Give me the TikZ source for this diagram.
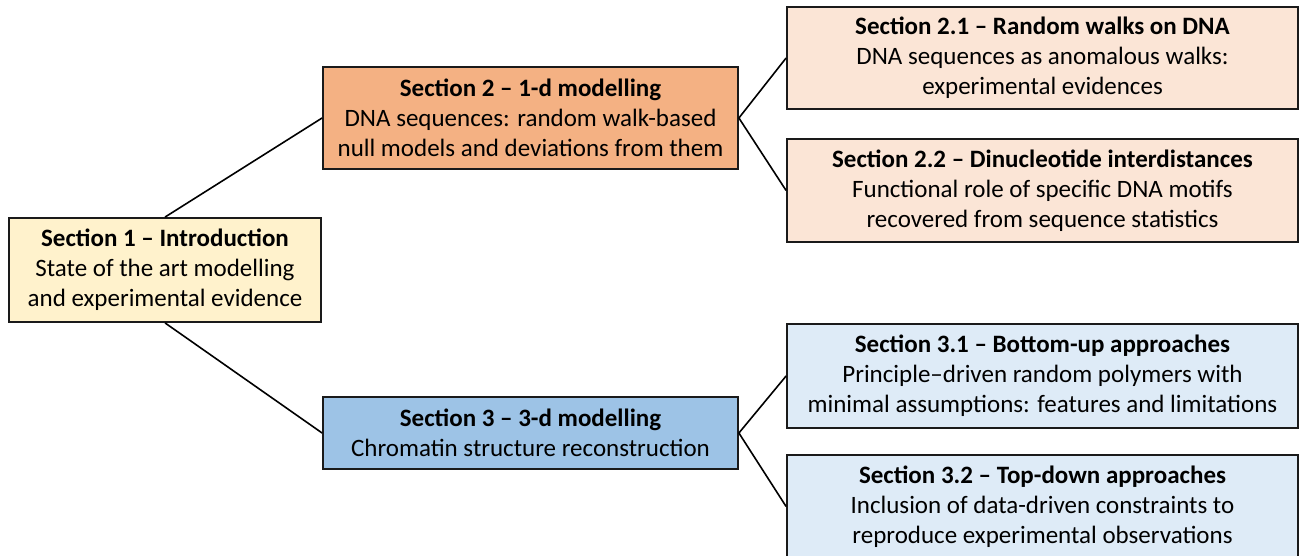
\documentclass[tikz,border=0pt]{standalone}
\usepackage{fontspec}
\setmainfont{Carlito}
\definecolor{bordc}{HTML}{1A1A1A}
\definecolor{yelf}{HTML}{FFF2CC}
\definecolor{orf}{HTML}{F4B183}
\definecolor{bluf}{HTML}{9DC3E6}
\definecolor{peachf}{HTML}{FBE5D6}
\definecolor{lbluf}{HTML}{DEEBF7}
\tikzset{
  secbox/.style={draw=bordc, line width=1.8pt, rectangle, align=center, inner sep=0pt,
    font=\fontsize{25}{30}\selectfont},
  conn/.style={draw=black, line width=1.6pt},
}
\begin{document}
\begin{tikzpicture}[x=1pt,y=-1pt]
\useasboundingbox (0,0) rectangle (1301,556);
\fill[white] (0,0) rectangle (1301,556);
\node[secbox, fill=yelf, minimum width=312pt, minimum height=104pt] (s1) at (165,270)
  {\textbf{Section 1 – Introduction}\\State of the art modelling\\and experimental evidence};
\node[secbox, fill=orf, minimum width=415pt, minimum height=102pt] (s2) at (530.5,118)
  {\textbf{Section 2 – 1-d modelling}\\DNA sequences: random walk-based\\null models and deviations from them};
\node[secbox, fill=bluf, minimum width=415pt, minimum height=72pt] (s3) at (530.5,433)
  {\textbf{Section 3 – 3-d modelling}\\Chromatin structure reconstruction};
\node[secbox, fill=peachf, minimum width=511pt, minimum height=102pt] (s21) at (1042.5,58)
  {\textbf{Section 2.1 – Random walks on DNA}\\DNA sequences as anomalous walks:\\experimental evidences};
\node[secbox, fill=peachf, minimum width=511pt, minimum height=103pt] (s22) at (1042.5,190.5)
  {\textbf{Section 2.2 – Dinucleotide interdistances}\\Functional role of specific DNA motifs\\recovered from sequence statistics};
\node[secbox, fill=lbluf, minimum width=511pt, minimum height=104pt] (s31) at (1042.5,376)
  {\textbf{Section 3.1 – Bottom-up approaches}\\Principle–driven random polymers with\\minimal assumptions: features and limitations};
\node[secbox, fill=lbluf, minimum width=511pt, minimum height=103pt] (s32) at (1042.5,506.5)
  {\textbf{Section 3.2 – Top-down approaches}\\Inclusion of data-driven constraints to\\reproduce experimental observations};
\draw[conn] (s1.north) -- (s2.west);
\draw[conn] (s1.south) -- (s3.west);
\draw[conn] (s2.east) -- (s21.west);
\draw[conn] (s2.east) -- (s22.west);
\draw[conn] (s3.east) -- (s31.west);
\draw[conn] (s3.east) -- (s32.west);
\end{tikzpicture}
\end{document}
